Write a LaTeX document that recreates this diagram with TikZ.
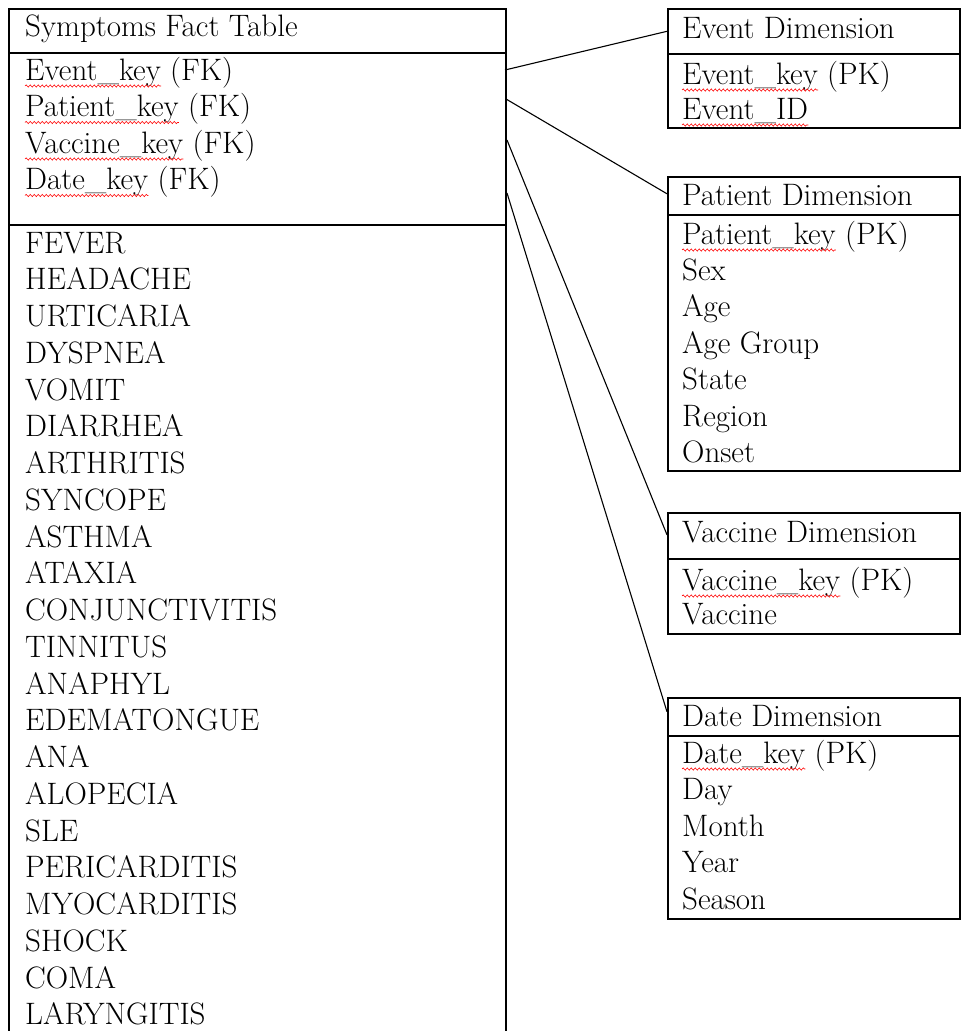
\documentclass[tikz,border=0pt]{standalone}
\usetikzlibrary{decorations.pathmorphing}
\tikzset{
  tbox/.style={draw=black, line width=1.6pt, minimum width=#1, inner sep=0pt, anchor=north west},
  txt/.style={font=\fontsize{31}{36}\selectfont, inner sep=0pt, anchor=base west},
  conn/.style={draw=black, line width=1.1pt},
  squig/.style={draw=red, line width=0.6pt, decorate, decoration={snake, amplitude=1.1pt, segment length=4pt}}
}
\newcommand\keyrow[5]{%
  \node[txt] (#1) at (#2,#3) {#4};
  \node[txt] (#1s) at ([xshift=9pt]#1.base east) {#5};
  \draw[squig] ([yshift=-6pt]#1.base west) -- ([yshift=-6pt]#1.base east);
}
\begin{document}
\begin{tikzpicture}[x=1pt, y=-1pt]
\useasboundingbox (0,0) rectangle (961,1031);
\clip (0,0) rectangle (961,1031);
\fill[white] (0,0) rectangle (961,1031);

% Fact table
\node[tbox=497pt, minimum height=44pt]  (fh) at (8,8) {};
\node[tbox=497pt, minimum height=172pt] (fk) at (8,52) {};
\node[tbox=497pt, minimum height=830pt] (fl) at (8,224) {};
\node[txt] (fht) at (25,36) {Symptoms Fact Table};
\keyrow{fk1}{25}{80}{Event\_key}{(FK)}
\keyrow{fk2}{25}{116.5}{Patient\_key}{(FK)}
\keyrow{fk3}{25}{153}{Vaccine\_key}{(FK)}
\keyrow{fk4}{25}{189.5}{Date\_key}{(FK)}
\foreach \w [count=\i] in {FEVER,HEADACHE,URTICARIA,DYSPNEA,VOMIT,DIARRHEA,ARTHRITIS,SYNCOPE,ASTHMA,ATAXIA,CONJUNCTIVITIS,TINNITUS,ANAPHYL,EDEMATONGUE,ANA,ALOPECIA,SLE,PERICARDITIS,MYOCARDITIS,SHOCK,COMA,LARYNGITIS}
  \node[txt] (s\i) at (25,{253+(\i-1)*36.76}) {\w};

% Event dimension
\node[tbox=292pt, minimum height=45pt] (eh) at (667,8) {};
\node[tbox=292pt, minimum height=74pt] (eb) at (667,53) {};
\node[txt] (eht) at (682,38) {Event Dimension};
\keyrow{ek1}{682}{84}{Event\_key}{(PK)}
\node[txt] (ek2) at (682,119) {Event\_ID};
\draw[squig] ([yshift=-6pt]ek2.base west) -- ([yshift=-6pt]ek2.base east);

% Patient dimension
\node[tbox=292pt, minimum height=38pt]  (ph) at (667,176) {};
\node[tbox=292pt, minimum height=256pt] (pb) at (667,214) {};
\node[txt] (pht) at (682,205) {Patient Dimension};
\keyrow{pk1}{682}{244}{Patient\_key}{(PK)}
\foreach \w [count=\i] in {Sex,Age,Age Group,State,Region,Onset}
  \node[txt] (pa\i) at (682,{244+\i*36.4}) {\w};

% Vaccine dimension
\node[tbox=292pt, minimum height=46pt] (vh) at (667,512) {};
\node[tbox=292pt, minimum height=75pt] (vb) at (667,558) {};
\node[txt] (vht) at (682,542) {Vaccine Dimension};
\keyrow{vk1}{682}{590}{Vaccine\_key}{(PK)}
\node[txt] (vk2) at (682,624) {Vaccine};

% Date dimension
\node[tbox=292pt, minimum height=38pt]  (dh) at (667,697) {};
\node[tbox=292pt, minimum height=183pt] (db) at (667,735) {};
\node[txt] (dht) at (682,726) {Date Dimension};
\keyrow{dk1}{682}{763}{Date\_key}{(PK)}
\foreach \w [count=\i] in {Day,Month,Year,Season}
  \node[txt] (da\i) at (682,{763+\i*36.5}) {\w};

% connector start points on the fact table
\coordinate (c1) at (505,70);
\coordinate (c2) at (506,99);
\coordinate (c3) at (507,140);
\coordinate (c4) at (507,193);
\draw[conn] (c1) -- (eh.west);
\draw[conn] (c2) -- ([yshift=2pt]ph.west);
\draw[conn] (c3) -- ([yshift=1pt]vh.west);
\draw[conn] (c4) -- ([yshift=5pt]dh.west);
\end{tikzpicture}
\end{document}
